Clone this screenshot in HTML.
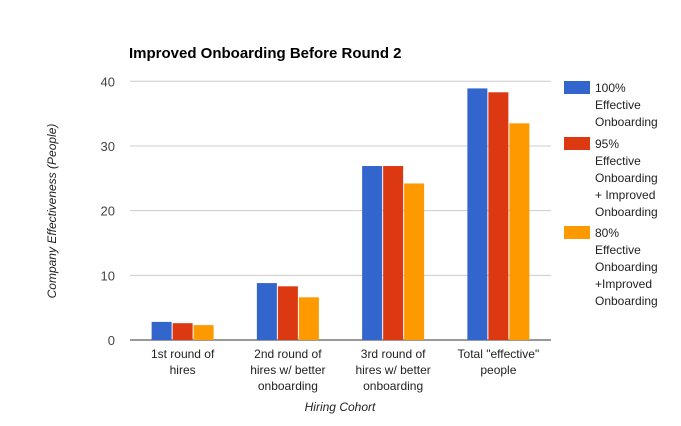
<!DOCTYPE html>
<html><head><meta charset="utf-8"><style>
body{margin:0;background:#fff;width:681px;height:421px;overflow:hidden;font-family:"Liberation Sans",Arial,sans-serif}
</style></head><body>
<svg id="chart" width="681" height="421" xmlns="http://www.w3.org/2000/svg" font-family="Liberation Sans, Arial, sans-serif">
<text x="129" y="58" font-size="15" font-weight="bold" fill="#000">Improved Onboarding Before Round 2</text>
<g id="grid"></g><g id="bars"></g><g id="xlabels"></g>
<text transform="translate(56,211) rotate(-90)" text-anchor="middle" font-size="12" font-style="italic" fill="#222">Company Effectiveness (People)</text>
<text x="340" y="411" text-anchor="middle" font-size="12" font-style="italic" fill="#222">Hiring Cohort</text>
<g id="legend"></g>
</svg>
<script>
const categories=[["1st round of","hires"],["2nd round of","hires w/ better","onboarding"],["3rd round of","hires w/ better","onboarding"],["Total \"effective\"","people"]];
const seriesNames=[["100%","Effective","Onboarding"],["95%","Effective","Onboarding","+ Improved","Onboarding"],["80%","Effective","Onboarding","+Improved","Onboarding"]];
const s100=[2.8,8.8,26.9,38.9];
const s95=[2.6,8.3,26.9,38.3];
const s80=[2.3,6.6,24.2,33.5];
const yTicks=[0,10,20,30,40];
const colors=["#3366cc","#dc3912","#ff9900"];
const series=[s100,s95,s80];
const NS="http://www.w3.org/2000/svg";
const x0=130,x1=551,yb=340,yt=81.3,ymax=40;
const y=v=>yb-(yb-yt)*v/ymax;
const gw=(x1-x0)/categories.length;
function mk(t,a,p){const e=document.createElementNS(NS,t);for(const k in a)e.setAttribute(k,a[k]);p.appendChild(e);return e;}
const grid=document.getElementById('grid');
yTicks.forEach(t=>{
 const l=mk('line',{x1:x0,x2:x1,y1:y(t),y2:y(t),stroke:t===0?'#333':'#ccc','stroke-width':1},grid);
 
 
 const tx=mk('text',{x:x0-15,y:y(t)+5,'text-anchor':'end','font-size':13,fill:'#444'},grid);
 tx.textContent=t;
 
 
});
const bars=document.getElementById('bars');
const bw=20,gap=1;
categories.forEach((c,i)=>{
 const cx=x0+gw*(i+0.5);
 const start=cx-(3*bw+2*gap)/2;
 series.forEach((s,j)=>{
  const r=mk('rect',{x:start+j*(bw+gap),y:y(s[i]),width:bw,height:yb-y(s[i]),fill:colors[j]},bars);
  
  
 });
 const t=mk('text',{x:cx,'text-anchor':'middle','font-size':12,fill:'#222'},document.getElementById('xlabels'));
 
 
 c.forEach((ln,k)=>{const ts=mk('tspan',{x:cx,y:358+k*16},t);ts.textContent=ln;});
});
const leg=document.getElementById('legend');
const legY=[81,137,226];
seriesNames.forEach((n,j)=>{
 const g=mk('g',{},leg);
 
 
 mk('rect',{x:564,y:legY[j],width:26,height:13,fill:colors[j]},g);
 const t=mk('text',{'font-size':12,fill:'#222'},g);
 n.forEach((ln,k)=>{const ts=mk('tspan',{x:595,y:legY[j]+11+k*17},t);ts.textContent=ln;});
});
</script>
</body></html>
